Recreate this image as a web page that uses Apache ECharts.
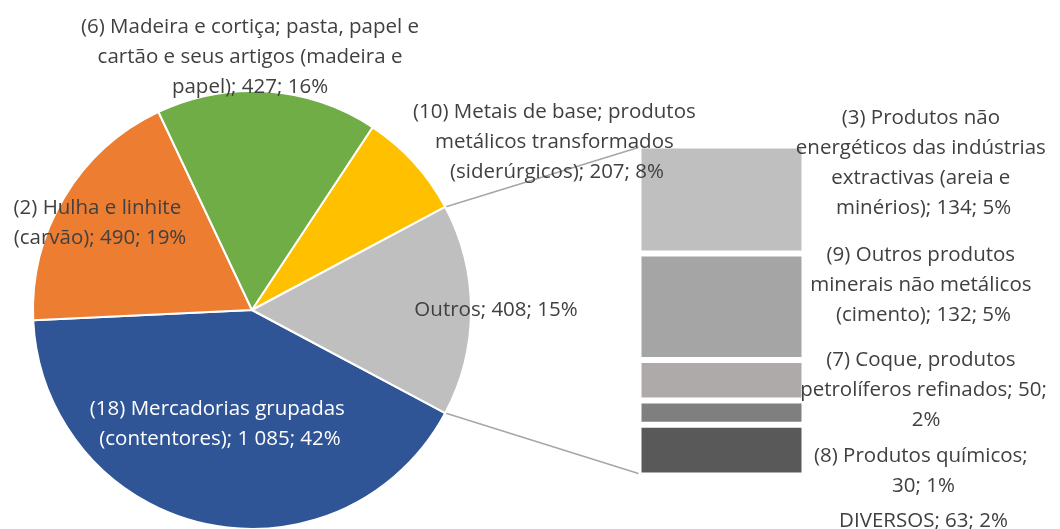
<!DOCTYPE html>
<html>
<head>
<meta charset="utf-8">
<script src="https://cdn.jsdelivr.net/npm/echarts@6/dist/echarts.min.js"></script>
<style>
    html, body { margin: 0; padding: 0; background: #fff; }
    #chart { width: 1060px; height: 529px; }
</style>
</head>
<body>
<div id="chart"></div>
<script>
// fatias do gráfico circular (sentido horário a partir da borda inferior de "Outros")
const pieNames = [
    '(18) Mercadorias grupadas (contentores)',
    '(2) Hulha e linhite (carvão)',
    '(6) Madeira e cortiça; pasta, papel e cartão e seus artigos (madeira e papel)',
    '(10) Metais de base; produtos metálicos transformados (siderúrgicos)',
    'Outros'
];
const pieValues = [1085, 490, 427, 207, 408];
const piePercents = [42, 19, 16, 8, 15];

// decomposição de "Outros", de cima para baixo
const barNames = [
    '(3) Produtos não energéticos das indústrias extractivas (areia e minérios)',
    '(9) Outros produtos minerais não metálicos (cimento)',
    '(7) Coque, produtos petrolíferos refinados',
    '(8) Produtos químicos',
    'DIVERSOS'
];
const barValues = [134, 132, 50, 30, 63];
const barPercents = [5, 5, 2, 1, 2];

const pieColors = ['#2F5597', '#ED7D31', '#70AD47', '#FFC000', '#BFBFBF'];
const barColors = ['#BFBFBF', '#A5A5A5', '#AEAAAA', '#7F7F7F', '#595959'];

const FONT = 'Open Sans';
const FONT_SIZE = 20.5;
const TEXT = '#404040';
const PIE_CX = 252, PIE_CY = 310, PIE_R = 219;
const GRID = { left: 638.5, top: 145.5, width: 166, height: 330 };

// posição dos rótulos (deslocamento a partir do centro do círculo) e largura de quebra
const pieLabelAt = [[-32, 114], [-152, -87], [-2, -253], [305, -168], [244, 0]];
const pieLabelWidth = [275, 195, 352, 315, 300];
const barLabelShift = [-36, -22, 10, 59, 71];
const barLabelWidth = [278, 264, 264, 240, 264];

function fmt(v) {
    return String(v).replace(/\B(?=(\d{3})+(?!\d))/g, ' ');
}

const pieTotal = pieValues.reduce((a, b) => a + b, 0);
const barTotal = barValues.reduce((a, b) => a + b, 0);
const outrosAngle = pieValues[pieValues.length - 1] / pieTotal * 360;

const chart = echarts.init(document.getElementById('chart'));

const barSeries = [];
for (let i = barValues.length - 1; i >= 0; i--) {
    barSeries.push({
        type: 'bar',
        name: barNames[i],
        stack: 'outros',
        barWidth: '100%',
        data: [barValues[i]],
        itemStyle: { color: barColors[i], borderColor: '#fff', borderWidth: 3 },
        label: {
            show: true,
            formatter: () => `${barNames[i]}; ${fmt(barValues[i])}; ${barPercents[i]}%`,
            color: TEXT,
            fontFamily: FONT,
            fontSize: FONT_SIZE,
            lineHeight: 30,
            width: barLabelWidth[i],
            overflow: 'break',
            align: 'center'
        },
        labelLayout: function (p) {
            return {
                x: p.rect.x + p.rect.width + 119,
                y: p.rect.y + p.rect.height / 2 + barLabelShift[i],
                align: 'center',
                verticalAlign: 'middle'
            };
        },
        emphasis: { disabled: true }
    });
}

const option = {
    backgroundColor: '#fff',
    animation: false,
    grid: GRID,
    xAxis: { type: 'category', data: ['Outros'], show: false },
    yAxis: { type: 'value', min: 0, max: barTotal, show: false },
    series: [
        {
            type: 'pie',
            center: [PIE_CX, PIE_CY],
            radius: PIE_R,
            startAngle: -outrosAngle / 2,
            clockwise: true,
            avoidLabelOverlap: false,
            itemStyle: { borderColor: '#fff', borderWidth: 2 },
            label: {
                show: true,
                position: 'inside',
                formatter: (p) => `${p.name}; ${fmt(p.value)}; ${piePercents[p.dataIndex]}%`,
                color: TEXT,
                fontFamily: FONT,
                fontSize: FONT_SIZE,
                lineHeight: 30,
                overflow: 'break',
                align: 'center'
            },
            labelLine: { show: false },
            labelLayout: function (p) {
                const d = pieLabelAt[p.dataIndex];
                return { x: PIE_CX + d[0], y: PIE_CY + d[1], align: 'center', verticalAlign: 'middle' };
            },
            emphasis: { disabled: true },
            data: pieNames.map((n, i) => ({
                name: n,
                value: pieValues[i],
                itemStyle: { color: pieColors[i] },
                label: { width: pieLabelWidth[i], color: i === 0 ? '#fff' : TEXT }
            }))
        }
    ].concat(barSeries)
};

chart.setOption(option);

// linhas de ligação entre a fatia "Outros" e a barra
const half = outrosAngle / 2 * Math.PI / 180;
const px = PIE_CX + PIE_R * Math.cos(half);
const barTop = chart.convertToPixel({ yAxisIndex: 0 }, barTotal) + 1.5;
const barBottom = chart.convertToPixel({ yAxisIndex: 0 }, 0) - 1.5;
const barLeft = GRID.left + 1.5;

chart.setOption({
    graphic: [
        {
            type: 'line', z: 0,
            shape: { x1: px, y1: PIE_CY - PIE_R * Math.sin(half), x2: barLeft, y2: barTop },
            style: { stroke: '#A6A6A6', lineWidth: 1.5 }
        },
        {
            type: 'line', z: 0,
            shape: { x1: px, y1: PIE_CY + PIE_R * Math.sin(half), x2: barLeft, y2: barBottom },
            style: { stroke: '#A6A6A6', lineWidth: 1.5 }
        }
    ]
});
</script>
</body>
</html>
